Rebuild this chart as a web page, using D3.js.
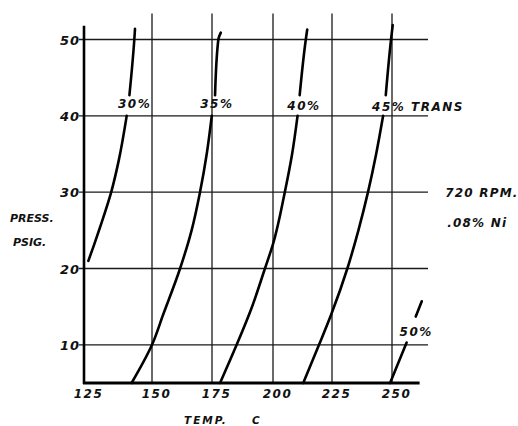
<html>
<head>
<script src="https://d3js.org/d3.v7.min.js"></script>
<style>
  body { margin: 0; background: #fff; }
  text { font-family: "DejaVu Sans", sans-serif; font-weight: bold; font-style: italic; fill: #111; }
</style>
</head>
<body>
<script>
// ticks on both axes
var xTicks = [125, 150, 175, 200, 225, 250];
var yTicks = [10, 20, 30, 40, 50];

// curves: [temp C, press psig]
var curve30 = [[126.6, 21.0], [128.6, 23], [130.9, 25.4], [135.0, 30], [137.8, 34.2], [140.7, 40],
               [141.7, 42.7], [143.5, 50], [143.75, 51.4]];
var curve35 = [[142.5, 5], [150, 10], [154.7, 14], [161.7, 20], [166.5, 25], [170, 30], [172.8, 35], [174.9, 40],
               [176.25, 42.7], [177.6, 50], [178.6, 50.9]];
var curve40 = [[178.3, 5], [185.1, 10], [191.3, 14.9], [196.7, 20], [200, 23.2], [205, 30], [208.1, 35], [210.4, 40],
               [211.3, 42.7], [213.9, 50], [214.5, 51.3]];
var curve45 = [[212.8, 5], [219.5, 10], [224.7, 14], [231.4, 20], [236, 25], [240, 30], [243.4, 35], [246.3, 40],
               [247.4, 42.7], [249.6, 50], [250.3, 51.9]];
var curve50 = [[249.2, 5], [256.1, 10.3],
               [259.9, 13.7], [262.4, 15.7]];

// each curve is broken where its label sits: index where the upper piece starts
var curveNames = ["30%", "35%", "40%", "45% TRANS", "50%"];
var curveData = [curve30, curve35, curve40, curve45, curve50];
var curveBreaks = [6, 8, 8, 8, 2];
// label anchor in data units [temp, press]
var labelAt = [[143.6, 41.0], [177.0, 41.0], [213.1, 40.7], [241.7, 40.6], [260.1, 11.2]];
var labelAnchor = ["middle", "middle", "middle", "start", "middle"];

var notes = ["720 RPM.", ".08% Ni"];
var notesAt = [[272.2, 29.4], [273, 25.4]];

window.onload = function() {
  var svg = d3.select("body").append("svg").attr("width", 518).attr("height", 426);
  svg.append("rect").attr("width", 518).attr("height", 426).attr("fill", "#fff");

  // the hand drawn grid is not quite even, so the x scale is piecewise
  var x = d3.scaleLinear()
      .domain([125, 150, 175, 200, 225, 250, 265])
      .range([84, 152, 212, 273, 332, 392, 428]);
  var y = d3.scaleLinear().domain([5, 50]).range([383, 39.5]);

  // horizontal grid
  svg.append("g").selectAll("line")
    .data(yTicks)
    .enter().append("line")
      .attr("x1", 79).attr("x2", x(265))
      .attr("y1", function(d) { return y(d); })
      .attr("y2", function(d) { return y(d); })
      .attr("stroke", "#1a1a1a").attr("stroke-width", 1.3);

  // vertical grid
  svg.append("g").selectAll("line")
    .data(xTicks.slice(1))
    .enter().append("line")
      .attr("x1", function(d) { return x(d); })
      .attr("x2", function(d) { return x(d); })
      .attr("y1", y(5)).attr("y2", y(53.4))
      .attr("stroke", "#1a1a1a").attr("stroke-width", 1.3);

  // heavy axis lines
  svg.append("line")
      .attr("x1", x(125)).attr("x2", x(125))
      .attr("y1", y(5) + 1).attr("y2", y(51.8))
      .attr("stroke", "#000").attr("stroke-width", 2.6);
  svg.append("line")
      .attr("x1", x(125) - 1).attr("x2", x(261.5))
      .attr("y1", y(5)).attr("y2", y(5))
      .attr("stroke", "#000").attr("stroke-width", 2.8);

  // tick labels through d3 axes, lines hidden
  var yAxis = svg.append("g")
      .attr("transform", "translate(" + (x(125) - 4) + ",0)")
      .call(d3.axisLeft(y).tickValues(yTicks).tickSize(0).tickPadding(0));
  yAxis.select(".domain").remove();
  yAxis.selectAll("text")
      .attr("font-family", null).attr("font-size", 13)
      .attr("letter-spacing", 1)
      .attr("dy", "0.36em");

  var xAxis = svg.append("g")
      .attr("transform", "translate(0," + y(5) + ")")
      .call(d3.axisBottom(x).tickValues(xTicks).tickSize(0).tickPadding(4));
  xAxis.select(".domain").remove();
  xAxis.selectAll("text")
      .attr("font-family", null).attr("font-size", 12)
      .attr("letter-spacing", 1.5)
      .attr("dx", 4)
      .attr("dy", "0.9em");

  // curves
  var line = d3.line()
      .curve(d3.curveMonotoneY)
      .x(function(d) { return x(d[0]); })
      .y(function(d) { return y(d[1]); });

  var pieces = [];
  curveData.forEach(function(c, i) {
    pieces.push(c.slice(0, curveBreaks[i]));
    pieces.push(c.slice(curveBreaks[i]));
  });

  svg.append("g").selectAll("path")
    .data(pieces)
    .enter().append("path")
      .attr("d", line)
      .attr("fill", "none")
      .attr("stroke", "#000")
      .attr("stroke-width", 2.6)
      .attr("stroke-linecap", "round");

  // curve labels
  svg.append("g").selectAll("text")
    .data(curveNames)
    .enter().append("text")
      .attr("x", function(d, i) { return x(labelAt[i][0]); })
      .attr("y", function(d, i) { return y(labelAt[i][1]); })
      .attr("text-anchor", function(d, i) { return labelAnchor[i]; })
      .attr("font-size", 12)
      .attr("letter-spacing", 1.5)
      .text(function(d) { return d; });

  svg.append("g").selectAll("text")
    .data(notes)
    .enter().append("text")
      .attr("x", function(d, i) { return x(notesAt[i][0]); })
      .attr("y", function(d, i) { return y(notesAt[i][1]); })
      .attr("font-size", 12)
      .attr("letter-spacing", 1.2)
      .text(function(d) { return d; });

  // axis titles
  svg.append("text").attr("x", 10).attr("y", 222).attr("font-size", 11).text("PRESS.");
  svg.append("text").attr("x", 13).attr("y", 246).attr("font-size", 11).text("PSIG.");
  svg.append("text").attr("x", 184).attr("y", 424).attr("font-size", 10.5)
      .attr("letter-spacing", 2).text("TEMP.");
  svg.append("text").attr("x", 252).attr("y", 424).attr("font-size", 10.5).text("C");
}
</script>
</body>
</html>
